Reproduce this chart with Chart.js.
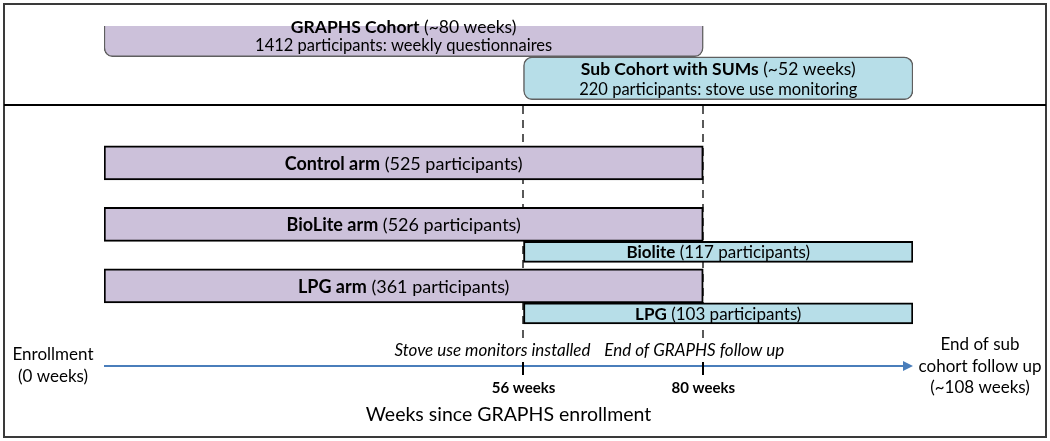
<!DOCTYPE html>
<html>
<head>
<meta charset="utf-8">
<script src="https://cdn.jsdelivr.net/npm/chart.js@4.4.1/dist/chart.umd.min.js"></script>
<style>
  html, body { margin: 0; padding: 0; background: #ffffff; }
  #wrap { width: 1050px; height: 441px; position: relative; }
  canvas { display: block; }
</style>
</head>
<body>
<div id="wrap"><canvas id="c" width="1050" height="441"></canvas></div>
<script>
// ---------------- data ----------------
const rows = ['Cohort', ' ', 'Control', 'BioLite', 'LPG'];

const cohortWeeks    = [[0, 80], null, null, null, null];
const subCohortWeeks = [[56, 108], null, null, null, null];
const armWeeks       = [null, null, [0, 80], [0, 80], [0, 80]];
const stoveWeeks     = [null, null, null, [56, 108], [56, 108]];

const cohortName = 'GRAPHS Cohort';
const cohortLength = '(~80 weeks)';
const cohortNote = '1412 participants: weekly questionnaires';
const subName = 'Sub Cohort with SUMs';
const subLength = '(~52 weeks)';
const subNote = '220 participants: stove use monitoring';

const armNames = [null, null, 'Control arm', 'BioLite arm', 'LPG arm'];
const armParticipants = [null, null, 525, 526, 361];
const stoveNames = [null, null, null, 'Biolite', 'LPG'];
const stoveParticipants = [null, null, null, 117, 103];

const weekTicks = [56, 80];
const weekMin = 0;
const weekMax = 108;
const tickNotes = ['Stove use monitors installed', 'End of GRAPHS follow up'];
const startNote = ['Enrollment', '(0 weeks)'];
const endNote = ['End of sub', 'cohort follow up', '(~108 weeks)'];
const axisTitle = 'Weeks since GRAPHS enrollment';

// ---------------- style ----------------
const FONT = 'Lato, "Open Sans", sans-serif';
const PURPLE = '#CCC1DA';
const BLUE = '#B7DEE8';
const ARROW = '#4A7EBB';

function mixed(ctx, parts, cx, cy, size) {
  const widths = parts.map(p => {
    ctx.font = (p.bold ? 'bold ' : '') + size + 'px ' + FONT;
    return ctx.measureText(p.text).width;
  });
  const total = widths.reduce((a, b) => a + b, 0);
  let x = cx - total / 2;
  ctx.textAlign = 'left';
  ctx.textBaseline = 'middle';
  ctx.fillStyle = '#000';
  parts.forEach((p, k) => {
    ctx.font = (p.bold ? 'bold ' : '') + size + 'px ' + FONT;
    ctx.fillText(p.text, x, cy);
    x += widths[k];
  });
}

const framePlugin = {
  id: 'frame',
  beforeDraw(chart) {
    const ctx = chart.ctx;
    ctx.save();
    ctx.fillStyle = '#fff';
    ctx.fillRect(0, 0, chart.width, chart.height);
    ctx.restore();
  },
  beforeDatasetsDraw(chart) {
    const ctx = chart.ctx;
    const xs = chart.scales.x;
    ctx.save();
    ctx.strokeStyle = '#595959';
    ctx.lineWidth = 2;
    ctx.setLineDash([8, 6]);
    weekTicks.forEach(w => {
      const px = Math.round(xs.getPixelForValue(w));
      ctx.beginPath();
      ctx.moveTo(px, 106);
      ctx.lineTo(px, 338);
      ctx.stroke();
    });
    ctx.restore();
  },
  afterDatasetsDraw(chart) {
    const ctx = chart.ctx;
    ctx.save();
    // top boxes
    const m0 = chart.getDatasetMeta(0).data[0];
    const m1 = chart.getDatasetMeta(1).data[0];
    const c0 = (m0.x + m0.base) / 2, c1 = (m1.x + m1.base) / 2;
    mixed(ctx, [{text: cohortName, bold: true}, {text: ' ' + cohortLength}], c0, m0.y - 8, 17.5);
    mixed(ctx, [{text: cohortNote}], c0, m0.y + 10, 16.5);
    mixed(ctx, [{text: subName, bold: true}, {text: ' ' + subLength}], c1, m1.y - 9, 17.5);
    mixed(ctx, [{text: subNote}], c1, m1.y + 11, 16.5);
    // arms
    chart.getDatasetMeta(2).data.forEach((el, i) => {
      if (!armNames[i]) return;
      mixed(ctx, [{text: armNames[i], bold: true}, {text: ' (' + armParticipants[i] + ' participants)'}],
        (el.x + el.base) / 2, el.y + 1, 18);
    });
    chart.getDatasetMeta(3).data.forEach((el, i) => {
      if (!stoveNames[i]) return;
      mixed(ctx, [{text: stoveNames[i], bold: true}, {text: ' (' + stoveParticipants[i] + ' participants)'}],
        (el.x + el.base) / 2, el.y + 1, 17);
    });
    ctx.restore();
  },
  afterDraw(chart) {
    const ctx = chart.ctx;
    const xs = chart.scales.x;
    ctx.save();
    // outer frame + divider
    ctx.strokeStyle = '#3a3a3a';
    ctx.lineWidth = 2;
    ctx.strokeRect(4, 4, 1042, 433);
    ctx.strokeStyle = '#000';
    ctx.beginPath();
    ctx.moveTo(4, 105);
    ctx.lineTo(1046, 105);
    ctx.stroke();
    // arrow axis
    const x0 = xs.getPixelForValue(weekMin);
    const x1 = xs.getPixelForValue(weekMax);
    const ay = 366;
    ctx.strokeStyle = ARROW;
    ctx.lineWidth = 2;
    ctx.beginPath();
    ctx.moveTo(x0, ay);
    ctx.lineTo(x1 - 8, ay);
    ctx.stroke();
    ctx.fillStyle = ARROW;
    ctx.beginPath();
    ctx.moveTo(x1, ay);
    ctx.lineTo(x1 - 10, ay - 5);
    ctx.lineTo(x1 - 10, ay + 5);
    ctx.closePath();
    ctx.fill();
    // tick marks
    ctx.strokeStyle = '#000';
    ctx.lineWidth = 2;
    weekTicks.forEach(w => {
      const px = Math.round(xs.getPixelForValue(w));
      ctx.beginPath();
      ctx.moveTo(px, 362);
      ctx.lineTo(px, 375);
      ctx.stroke();
    });
    // tick notes (italic)
    ctx.fillStyle = '#000';
    ctx.font = 'italic 17px ' + FONT;
    ctx.textBaseline = 'middle';
    ctx.textAlign = 'right';
    ctx.fillText(tickNotes[0], xs.getPixelForValue(weekTicks[0]) + 67, 351);
    ctx.textAlign = 'center';
    ctx.fillText(tickNotes[1], xs.getPixelForValue(weekTicks[1]) - 9, 351);
    // start / end notes
    ctx.font = '17px ' + FONT;
    startNote.forEach((t, k) => ctx.fillText(t, 53, 355 + k * 21.5));
    endNote.forEach((t, k) => ctx.fillText(t, 980, 345 + k * 21.5));
    ctx.restore();
  }
};

const chart = new Chart(document.getElementById('c'), {
  type: 'bar',
  data: {
    labels: rows,
    datasets: [
      { label: cohortName, data: cohortWeeks, stack: 'follow', barThickness: 43,
        backgroundColor: PURPLE, borderColor: '#5f5f5f', borderWidth: 1.5, borderRadius: 9, borderSkipped: false },
      { label: subName, data: subCohortWeeks, stack: 'sums', barThickness: 43,
        backgroundColor: BLUE, borderColor: '#5f5f5f', borderWidth: 1.5, borderRadius: 9, borderSkipped: false },
      { label: 'Arms', data: armWeeks, stack: 'follow', barThickness: 34,
        backgroundColor: PURPLE, borderColor: '#000', borderWidth: 2, borderSkipped: false },
      { label: 'Stove use monitoring', data: stoveWeeks, stack: 'sums', barThickness: 21,
        backgroundColor: BLUE, borderColor: '#000', borderWidth: 2, borderSkipped: false }
    ]
  },
  options: {
    indexAxis: 'y',
    responsive: false,
    animation: false,
    devicePixelRatio: 1,
    layout: { padding: { left: 104, right: 137, top: 26, bottom: 15 } },
    plugins: { legend: { display: false }, tooltip: { enabled: false } },
    scales: {
      y: { display: false },
      x: {
        type: 'linear', min: weekMin, max: weekMax, stacked: false,
        grid: { display: false, drawTicks: true, tickLength: 45.6 },
        border: { display: false },
        afterBuildTicks: s => { s.ticks = weekTicks.map(v => ({ value: v })); },
        ticks: { padding: 0, autoSkip: false, maxRotation: 0, color: '#000',
          font: { family: FONT, size: 15, weight: 'bold' },
          callback: v => v + ' weeks' },
        title: { display: true, text: axisTitle, color: '#000',
          font: { family: FONT, size: 19.5 }, padding: { top: 5.3, bottom: 0 } }
      }
    }
  },
  plugins: [framePlugin]
});
</script>
</body>
</html>
